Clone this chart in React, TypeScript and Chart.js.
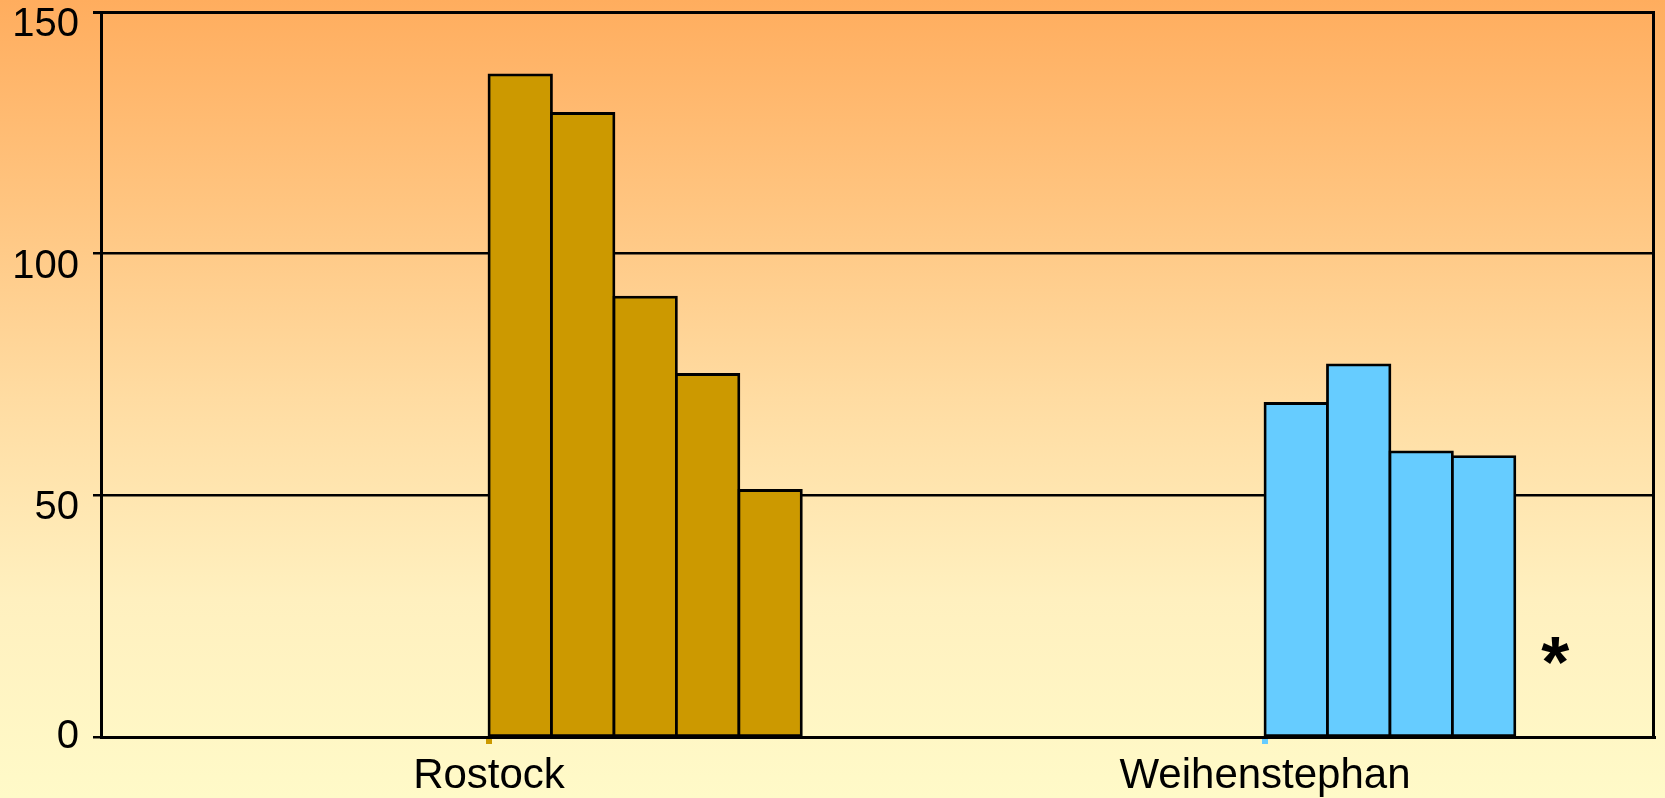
import React, { useEffect, useRef } from 'react';
import { Chart, registerables } from 'chart.js';

Chart.register(...registerables);

// ---- data ----
const categories = ['Rostock', 'Weihenstephan'];
const rostockValues = [137, 129, 91, 75, 51];
const weihenstephanValues = [69, 77, 59, 58];
const seriesValues = [rostockValues, weihenstephanValues];
const yMin = 0;
const yMax = 150;
const yStep = 50;
const annotationText = '*';
const annotationX = 1.874; // in category units
const annotationY = 18;

// ---- styles ----
const seriesColors = ['#CC9900', '#66CCFF'];
const FONT = '"Liberation Sans", Arial, Helvetica, sans-serif';
const BAR_SLOT = 0.0805; // bar width as a fraction of one category
const Y_LABEL_DROP = 13; // labels sit just below their grid line (except 0)
const BAR_BORDER = 2.8;

const annotationPlugin = {
  id: 'asteriskNote',
  afterDatasetsDraw(chart: any) {
    const { ctx, scales } = chart;
    const xs = scales.x;
    const ys = scales.y;
    ctx.save();
    ctx.font = `bold 72px ${FONT}`;
    ctx.fillStyle = '#000';
    ctx.textAlign = 'center';
    ctx.textBaseline = 'alphabetic';
    const m = ctx.measureText(annotationText);
    const px = xs.getPixelForValue(annotationX);
    const py = ys.getPixelForValue(annotationY);
    ctx.fillText(
      annotationText,
      px,
      py + (m.actualBoundingBoxAscent - m.actualBoundingBoxDescent) / 2
    );
    ctx.restore();
  },
};

export default function App() {
  const canvasRef = useRef<HTMLCanvasElement | null>(null);

  useEffect(() => {
    if (!canvasRef.current) return;
    Chart.defaults.font.family = FONT;
    const datasets = seriesValues.map((vals, ci) => ({
      label: categories[ci],
      data: vals.map((v, i) => ({ x: ci + 0.5 + (i + 0.5) * BAR_SLOT, y: v })),
      backgroundColor: seriesColors[ci],
      borderColor: '#000000',
      borderWidth: BAR_BORDER,
      borderSkipped: false,
      inflateAmount: BAR_BORDER / 2,
      grouped: false,
      barPercentage: 1,
      categoryPercentage: 1,
    }));

    const chart = new Chart(canvasRef.current, {
      type: 'bar',
      data: { datasets } as any,
      plugins: [annotationPlugin],
      options: {
        animation: false,
        responsive: true,
        maintainAspectRatio: false,
        layout: { padding: { top: 12, right: 12, left: 0, bottom: 0 } },
        plugins: {
          legend: { display: false },
          tooltip: { enabled: false },
        },
        scales: {
          x: {
            type: 'linear',
            min: 0,
            max: categories.length,
            offset: false,
            position: 'bottom',
            z: 1,
            afterBuildTicks: (s: any) => {
              s.ticks = categories.map((_, i) => ({ value: i + 0.5 }));
            },
            afterFit: (s: any) => {
              s.height = 61;
              s.paddingLeft = 0;
              s.paddingRight = 0;
            },
            ticks: {
              autoSkip: false,
              maxRotation: 0,
              minRotation: 0,
              padding: 7,
              color: '#000',
              font: { size: 42, family: FONT },
              callback: (v: any) => categories[Math.floor(Number(v))] ?? '',
            },
            grid: {
              display: true,
              offset: false,
              drawOnChartArea: false,
              drawTicks: true,
              tickLength: 7,
              lineWidth: 6,
              color: (c: any) => seriesColors[c.index] ?? 'transparent',
            },
            border: { display: true, color: '#000', width: 3 },
          },
          y: {
            type: 'linear',
            min: yMin,
            max: yMax,
            position: 'left',
            afterFit: (s: any) => {
              s.width = 101;
              s.paddingTop = 0;
              s.paddingBottom = 0;
            },
            ticks: {
              stepSize: yStep,
              padding: 14,
              color: '#000',
              font: (c: any) => ({
                size: 40,
                family: FONT,
                lineHeight: c.tick && c.tick.value !== yMin ? (2 * Y_LABEL_DROP) / 40 : 1.2,
              }),
              callback: (v: any) => (Number(v) === yMin ? String(v) : ['', String(v)]),
            },
            grid: {
              display: true,
              drawOnChartArea: true,
              drawTicks: true,
              tickLength: 8,
              color: '#000',
              lineWidth: (c: any) => (c.tick && c.tick.value === yMax ? 3 : 2.5),
            },
            border: { display: true, color: '#000', width: 3 },
          },
          yr: {
            type: 'linear',
            min: yMin,
            max: yMax,
            position: 'right',
            afterFit: (s: any) => {
              s.width = 0;
              s.paddingTop = 0;
              s.paddingBottom = 0;
            },
            ticks: { display: false },
            grid: { display: false, drawTicks: false, drawOnChartArea: false },
            border: { display: true, color: '#000', width: 3 },
          },
        },
      } as any,
    });
    return () => chart.destroy();
  }, []);

  return (
    <div
      style={{
        position: 'fixed',
        left: 0,
        top: 0,
        width: 1665,
        height: 798,
        background:
          'linear-gradient(to bottom, #FFAD5E 0%, #FFC47F 25%, #FFDCA2 50%, #FFF0BF 75%, #FFFAC8 100%)',
      }}
    >
      <canvas ref={canvasRef} />
    </div>
  );
}
